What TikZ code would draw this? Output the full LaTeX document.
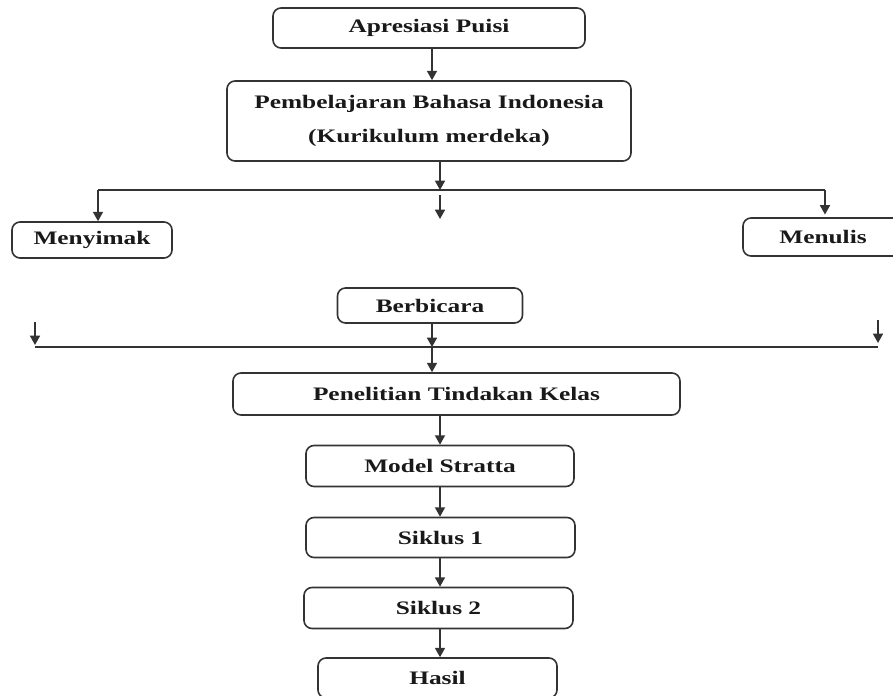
\documentclass[tikz,border=0pt]{standalone}
\usepackage{fontspec}
\setmainfont{Liberation Serif}[FakeStretch=1.33]
\usetikzlibrary{arrows.meta}
\begin{document}
\begin{tikzpicture}[x=0.75pt,y=-0.75pt,
  box/.style={draw=black!80,line width=1.2pt,rounded corners=6pt,fill=white,
    inner sep=0pt,align=center,font=\fontsize{14.3}{17}\selectfont\bfseries,text=black!90},
  arr/.style={draw=black!80,line width=1.2pt,-{Triangle[length=7pt,width=7.5pt]}},
  ln/.style={draw=black!80,line width=1.2pt}]
\useasboundingbox (0,0) rectangle (893,696);
% nodes
\node[box,minimum width=234pt,minimum height=30pt] (ap) at (429,28) {Apresiasi Puisi};
\node[box,minimum width=303pt,minimum height=60pt] (pb) at (429,121)
  {Pembelajaran Bahasa Indonesia\\[8.5pt](Kurikulum merdeka)};
\node[box,minimum width=120pt,minimum height=27pt] (my) at (92,240) {Menyimak};
\node[box,minimum width=120pt,minimum height=28.5pt] (mn) at (823,237) {Menulis};
\node[box,minimum width=138.75pt,minimum height=26.25pt] (bb) at (430,305.5) {Berbicara};
\node[box,minimum width=335.25pt,minimum height=31.5pt] (pt) at (456.5,394) {Penelitian Tindakan Kelas};
\node[box,minimum width=201pt,minimum height=30.75pt] (ms) at (440,466) {Model Stratta};
\node[box,minimum width=201.75pt,minimum height=30pt] (s1) at (440.5,537.5) {Siklus 1};
\node[box,minimum width=201.75pt,minimum height=30.75pt] (s2) at (438.5,608) {Siklus 2};
\node[box,minimum width=179.25pt,minimum height=30pt] (hs) at (437.5,678) {Hasil};
% coordinates
\coordinate (j1) at (440,190);
\coordinate (jl) at (98,190);
\coordinate (jr) at (825,190);
\coordinate (m1) at (440,195);
\coordinate (m2) at (440,219);
\coordinate (j2) at (432,347);
\coordinate (hl) at (35,347);
\coordinate (hr) at (878,347);
\coordinate (la) at (35,322);
\coordinate (lb) at (35,345);
\coordinate (ra) at (878,320);
\coordinate (rb) at (878,343);
% connectors
\draw[arr] (ap.south -| 432,0) -- (pb.north -| 432,0);
\draw[arr] (pb.south -| j1) -- (j1);
\draw[ln] (jl) -- (jr);
\draw[arr] (jl) -- (my.north -| jl);
\draw[arr] (jr) -- ([yshift=2]mn.north -| jr);
\draw[arr] (m1) -- (m2);
\draw[ln] (hl) -- (hr);
\draw[arr] (la) -- (lb);
\draw[arr] (ra) -- (rb);
\draw[arr] (bb.south -| j2) -- (j2);
\draw[arr] (j2) -- (pt.north -| j2);
\draw[arr] (pt.south -| 440,0) -- (ms.north -| 440,0);
\draw[arr] (ms.south -| 440,0) -- (s1.north -| 440,0);
\draw[arr] (s1.south -| 440,0) -- (s2.north -| 440,0);
\draw[arr] (s2.south -| 440,0) -- (hs.north -| 440,0);
\end{tikzpicture}
\end{document}
